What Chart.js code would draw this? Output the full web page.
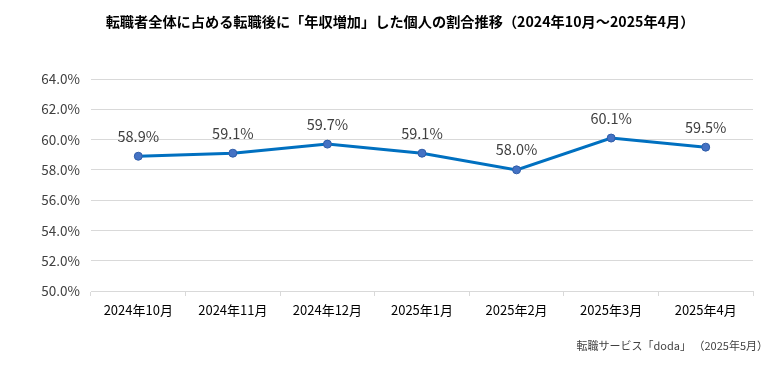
<!DOCTYPE html>
<html>
<head>
<meta charset="utf-8">
<script src="https://cdn.jsdelivr.net/npm/chart.js@4"></script>
<style>
  html, body { margin: 0; padding: 0; background: #fff; }
  #wrap { width: 779px; height: 370px; }
</style>
</head>
<body>
<div id="wrap"><canvas id="c" width="779" height="370"></canvas></div>
<script>
const months = ["2024年10月", "2024年11月", "2024年12月", "2025年1月", "2025年2月", "2025年3月", "2025年4月"];
const shares = [58.9, 59.1, 59.7, 59.1, 58.0, 60.1, 59.5];
const yTicks = [50, 52, 54, 56, 58, 60, 62, 64];

const titleText = "転職者全体に占める転職後に「年収増加」した個人の割合推移（2024年10月～2025年4月）";
const sourceText = "転職サービス「doda」 （2025年5月）";

const FONT = "'Noto Sans CJK JP', 'Noto Sans', sans-serif";

// title, footnote and point labels
const textPlugin = {
	id: "texts",
	afterDatasetsDraw(chart) {
		const ctx = chart.ctx;
		ctx.save();
		ctx.fillStyle = "#000";
		ctx.font = "bold 14.2px " + FONT;
		ctx.textAlign = "center";
		ctx.textBaseline = "middle";
		ctx.fillText(titleText, 400, 22);

		ctx.fillStyle = "#404040";
		ctx.font = "11px " + FONT;
		ctx.textAlign = "right";
		ctx.fillText(sourceText, 768, 346);

		ctx.font = "14.5px " + FONT;
		ctx.textAlign = "center";
		const meta = chart.getDatasetMeta(0);
		meta.data.forEach((pt, i) => {
			ctx.fillText(shares[i].toFixed(1) + "%", pt.x, pt.y - 20);
		});
		ctx.restore();
	}
};

new Chart("c", {
	type: "line",
	data: {
		labels: months,
		datasets: [{
			data: shares,
			borderColor: "#0070C0",
			borderWidth: 3,
			pointRadius: 4,
			pointBackgroundColor: "#4472C4",
			pointBorderColor: "#2F5DA8",
			pointBorderWidth: 1,
			tension: 0,
		}]
	},
	options: {
		responsive: false,
		animation: false,
		layout: { padding: { top: 79, right: 26, left: 0, bottom: 0 } },
		plugins: {
			legend: { display: false },
			tooltip: { enabled: false },
		},
		scales: {
			x: {
				offset: true,
				grid: {
					offset: true,
					drawOnChartArea: false,
					drawTicks: true,
					tickLength: 5,
					color: "#D9D9D9",
				},
				border: { color: "#D9D9D9", width: 1 },
				ticks: {
					color: "#000",
					font: { family: FONT, size: 13 },
					padding: 6,
					maxRotation: 0,
				},
				afterFit(scale) { scale.height = 79; },
			},
			y: {
				min: 50,
				max: 64,
				afterBuildTicks(scale) { scale.ticks = yTicks.map(v => ({ value: v })); },
				grid: { color: "#D9D9D9", lineWidth: 1, drawTicks: false },
				border: { display: false },
				ticks: {
					color: "#404040",
					font: { family: FONT, size: 13.5 },
					padding: 11,
					callback: v => v.toFixed(1) + "%",
				},
				afterFit(scale) { scale.width = 91; },
			}
		}
	},
	plugins: [textPlugin]
});
</script>
</body>
</html>
